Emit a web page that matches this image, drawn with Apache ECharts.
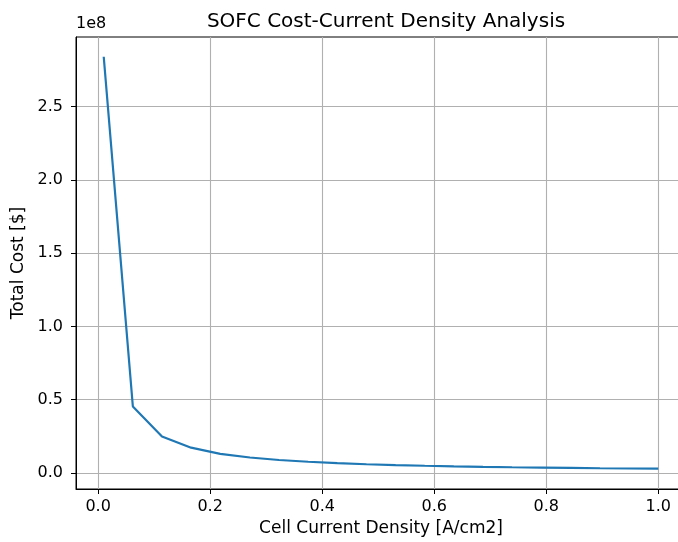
<!DOCTYPE html>
<html>
<head>
<meta charset="utf-8">
<script src="https://cdn.jsdelivr.net/npm/echarts@6/dist/echarts.min.js"></script>
<style>
  html, body { margin: 0; padding: 0; background: #fff; overflow: hidden; }
  /* the axes run a little past the right edge of the picture, as in the original */
  #char1 { width: 686px; height: 542px; }
</style>
</head>
<body>
<div id="char1"></div>
<script>
// current density [A/cm2] and total cost [$]
var density = [0.01, 0.062, 0.114, 0.166, 0.218, 0.271, 0.323, 0.375, 0.427, 0.479,
               0.531, 0.583, 0.635, 0.687, 0.739, 0.792, 0.844, 0.896, 0.948, 1.0];
var totalCost = [2.84e8, 0.453e8, 0.249e8, 0.172e8, 0.130e8, 0.105e8, 0.088e8, 0.076e8, 0.0665e8, 0.059e8,
                 0.0535e8, 0.0487e8, 0.0447e8, 0.0413e8, 0.0384e8, 0.0359e8, 0.0337e8, 0.0317e8, 0.030e8, 0.029e8];
var xTicks = [0, 0.2, 0.4, 0.6, 0.8, 1.0];
var yTicks = [0, 0.5e8, 1.0e8, 1.5e8, 2.0e8, 2.5e8];

var font = "DejaVu Sans";

char1();

function char1() {
    var myChart = echarts.init(document.getElementById("char1"));

    var points = density.map(function (d, i) { return [d, totalCost[i]]; });

    var option = {
        animation: false,
        backgroundColor: "#ffffff",
        title: {
            text: "SOFC Cost-Current Density Analysis",
            left: 381,
            top: 7,
            textAlign: "center",
            textStyle: { fontFamily: font, fontSize: 20, fontWeight: "normal", color: "#000" },
        },
        graphic: [
            {
                type: "text",
                left: 76,
                top: 16,
                style: { text: "1e8", font: "16px " + font, fill: "#000" },
            },
        ],
        grid: {
            left: 76,
            top: 37,
            right: 0,
            bottom: 52,
            show: true,
            borderColor: "#000",
            borderWidth: 1,
            containLabel: false,
        },
        xAxis: {
            type: "value",
            min: -0.0395,
            max: 1.0495,
            splitNumber: 5,
            name: "Cell Current Density [A/cm2]",
            nameLocation: "middle",
            nameGap: 31,
            nameTextStyle: { fontFamily: font, fontSize: 17, color: "#000" },
            axisLine: { show: true, onZero: false, lineStyle: { color: "#000", width: 1 } },
            axisTick: { show: true, inside: false, length: 5, customValues: xTicks, lineStyle: { color: "#000" } },
            axisLabel: {
                customValues: xTicks,
                margin: 10,
                fontFamily: font,
                fontSize: 16,
                color: "#000",
                formatter: function (v) { return v.toFixed(1); },
            },
            splitLine: { show: true, lineStyle: { color: "#b0b0b0", width: 1.1 } },
        },
        yAxis: {
            type: "value",
            min: -0.11e8,
            max: 2.975e8,
            splitNumber: 6,
            name: "Total Cost [$]",
            nameLocation: "middle",
            nameGap: 49,
            nameTextStyle: { fontFamily: font, fontSize: 17, color: "#000" },
            axisLine: { show: true, onZero: false, lineStyle: { color: "#000", width: 1 } },
            axisTick: { show: true, inside: false, length: 5, customValues: yTicks, lineStyle: { color: "#000" } },
            axisLabel: {
                customValues: yTicks,
                margin: 13,
                fontFamily: font,
                fontSize: 16,
                color: "#000",
                formatter: function (v) { return (v / 1e8).toFixed(1); },
            },
            splitLine: { show: true, lineStyle: { color: "#b0b0b0", width: 1.1 } },
        },
        series: [
            {
                name: "Total Cost",
                type: "line",
                data: points,
                showSymbol: false,
                symbol: "none",
                lineStyle: { color: "#1f77b4", width: 2.2 },
                itemStyle: { color: "#1f77b4" },
            },
        ],
    };

    myChart.setOption(option);
    window.addEventListener("resize", function () {
        myChart.resize();
    });
}
</script>
</body>
</html>
